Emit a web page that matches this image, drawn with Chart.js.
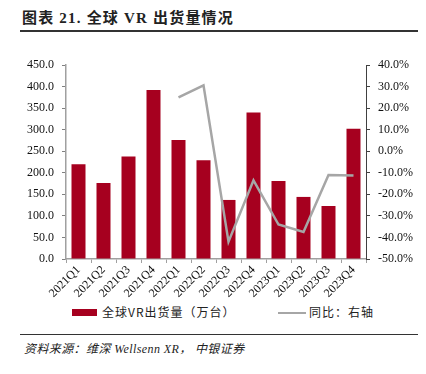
<!DOCTYPE html>
<html><head><meta charset="utf-8">
<script src="https://cdn.jsdelivr.net/npm/chart.js@4/dist/chart.umd.min.js"></script>
<style>
html,body{margin:0;padding:0;background:#fff;width:426px;height:374px;overflow:hidden;position:relative;font-family:"Liberation Serif","Noto Sans CJK SC",serif;}
#title{position:absolute;left:22px;top:6px;font-size:15px;font-weight:bold;color:#222;letter-spacing:1.2px;font-family:"Liberation Serif","Noto Sans CJK SC",serif;white-space:nowrap;}
#tline{position:absolute;left:20px;top:30px;width:398px;height:1.5px;background:#333;}
#bline{position:absolute;left:20px;top:334px;width:398px;height:1px;background:#333;}
#src{position:absolute;left:24px;top:339px;font-size:12px;font-style:italic;color:#222;letter-spacing:0.4px;white-space:nowrap;font-family:"Liberation Serif","Noto Sans CJK SC",serif;}
#c{position:absolute;left:0;top:40px;}
.lg{position:absolute;font-size:12px;color:#222;letter-spacing:1px;white-space:nowrap;font-family:"Noto Sans CJK SC",sans-serif;line-height:14px;}
</style></head>
<body>
<div id="title">图表 21. 全球 VR 出货量情况</div>
<div id="tline"></div>
<canvas id="c" width="426" height="262"></canvas>
<div style="position:absolute;left:72px;top:309px;width:25px;height:7px;background:#A6001F;"></div>
<div class="lg" style="left:102px;top:305px;">全球VR出货量（万台）</div>
<div style="position:absolute;left:278px;top:311.5px;width:28px;height:2.5px;background:#A6A6A6;"></div>
<div class="lg" style="left:309px;top:305px;">同比：右轴</div>
<div id="bline"></div>
<div id="src">资料来源：维深 Wellsenn XR， 中银证券</div>
<script>
const categories = ["2021Q1","2021Q2","2021Q3","2021Q4","2022Q1","2022Q2","2022Q3","2022Q4","2023Q1","2023Q2","2023Q3","2023Q4"];
const shipments = [220, 176, 238, 392, 276, 229, 137, 340, 181, 144, 123, 302];
const yoy = [null, null, null, null, 25.0, 30.6, -42.0, -13.5, -34.0, -37.5, -11.0, -11.3];
const leftTicks = {min: 0, max: 450, step: 50};
const rightTicks = {min: -50, max: 40, step: 10};

const tickFont = {family: "Liberation Serif", size: 12};
new Chart(document.getElementById('c'), {
  data: {
    labels: categories,
    datasets: [
      {type: 'line', label: '同比：右轴', data: yoy, yAxisID: 'y1', borderColor: '#A6A6A6', borderWidth: 2.5, pointRadius: 0, fill: false, tension: 0, order: 0, spanGaps: false},
      {type: 'bar', label: '全球VR出货量（万台）', data: shipments, yAxisID: 'y', backgroundColor: '#A6001F', barPercentage: 0.56, categoryPercentage: 1.0, order: 1}
    ]
  },
  options: {
    responsive: false, animation: false, devicePixelRatio: 1,
    layout: {padding: {top: 25, left: 0, right: 0, bottom: 0}},
    plugins: {legend: {display: false}, tooltip: {enabled: false}},
    scales: {
      x: {
        offset: true,
        grid: {display: true, drawOnChartArea: false, offset: true, tickLength: 4, color: '#a0a0a0'},
        border: {color: '#a0a0a0', width: 1.5},
        ticks: {font: tickFont, color: '#111', maxRotation: 45, minRotation: 45, padding: 0, autoSkip: false},
        afterFit: s => { s.height = 43; }
      },
      y: {
        position: 'left', min: leftTicks.min, max: leftTicks.max,
        grid: {drawOnChartArea: false, tickLength: 4, color: '#808080'},
        border: {color: '#a0a0a0', width: 1.5},
        ticks: {stepSize: leftTicks.step, font: tickFont, color: '#111', padding: 8, callback: v => v.toFixed(1)},
        afterFit: s => { s.width = 66; }
      },
      y1: {
        position: 'right', min: rightTicks.min, max: rightTicks.max,
        grid: {drawOnChartArea: false, tickLength: 4, color: '#404040'},
        border: {color: '#404040', width: 1},
        ticks: {stepSize: rightTicks.step, font: tickFont, color: '#111', padding: 8, callback: v => v.toFixed(1) + '%'},
        afterFit: s => { s.width = 60; }
      }
    }
  }
});
</script>
</body></html>
